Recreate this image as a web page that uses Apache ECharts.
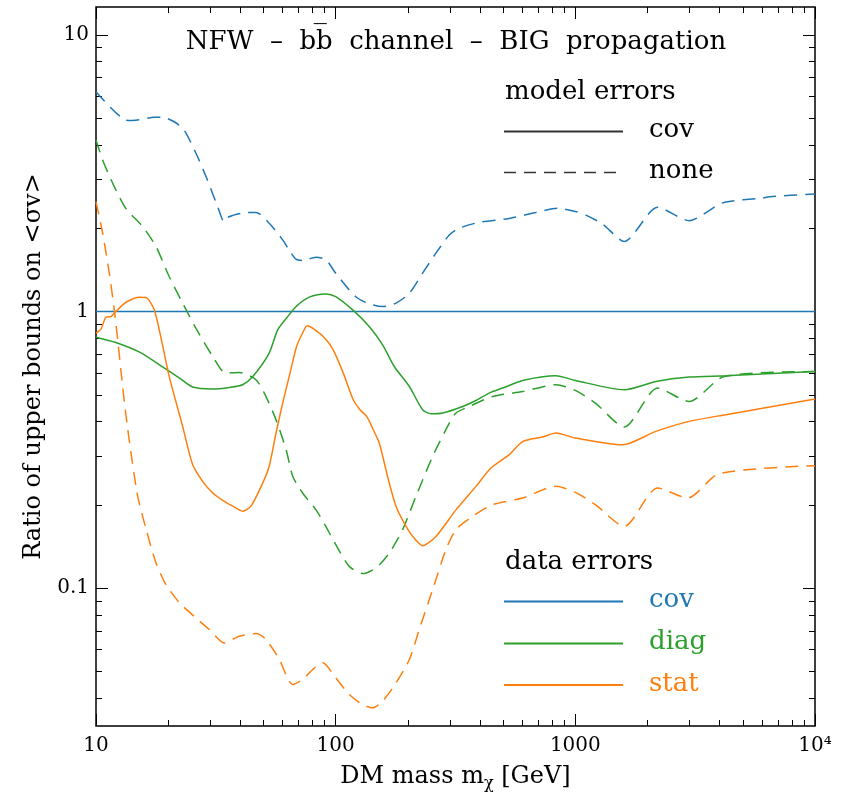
<!DOCTYPE html>
<html>
<head>
<meta charset="utf-8">
<title>NFW bb channel ratio</title>
<script src="https://cdn.jsdelivr.net/npm/echarts@6/dist/echarts.min.js"></script>
<style>
  html, body { margin: 0; padding: 0; background: #fff; }
  #chart { width: 847px; height: 797px; }
</style>
</head>
<body>
<div id="chart"></div>
<script>
// [mass GeV, ratio]
const covNone = [[10, 6.23], [13.3, 4.92], [14.2, 4.9], [17.5, 5.03], [19, 5.03], [21.2, 4.85], [23.3, 4.53], [26.1, 3.74], [28.8, 3.07], [32.2, 2.39], [34.3, 2.11], [35.9, 2.2], [40.9, 2.27], [46.5, 2.28], [52.7, 2.09], [60.1, 1.815], [63.9, 1.67], [68.3, 1.546], [72.8, 1.53], [82.8, 1.572], [91.1, 1.537], [100, 1.376], [121, 1.133], [138, 1.066], [157, 1.042], [178.5, 1.072], [203, 1.165], [230.5, 1.376], [262, 1.625], [298, 1.89], [328, 2.0], [397, 2.1], [530, 2.17], [685, 2.28], [844, 2.36], [1000, 2.3], [1107, 2.23], [1300, 2.07], [1600, 1.79], [2205, 2.38], [2986, 2.13], [4120, 2.47], [6045, 2.57], [6445, 2.6], [10000, 2.66]]
const covCov = [[10, 1], [10000, 1]]
const diagCov = [[10, 0.808], [12.1, 0.773], [15.2, 0.713], [18.4, 0.642], [22.3, 0.575], [25.3, 0.5335], [30.7, 0.525], [36, 0.532], [40.9, 0.544], [45.1, 0.5825], [52.8, 0.708], [57.3, 0.859], [63.1, 0.959], [68.3, 1.042], [77.6, 1.127], [91.1, 1.158], [100, 1.133], [117.8, 1.014], [138, 0.883], [157, 0.758], [175.6, 0.633], [203, 0.536], [230.5, 0.442], [249.8, 0.427], [279.6, 0.43], [338.8, 0.454], [384.9, 0.477], [437.4, 0.5075], [497.6, 0.529], [602.7, 0.5636], [830, 0.586], [1000, 0.5636], [1600, 0.5216], [2168, 0.5588], [2986, 0.58], [4246, 0.586], [10000, 0.607]]
const diagNone = [[10, 4.17], [10.66, 3.53], [11.74, 2.908], [13.3, 2.362], [15.66, 2.027], [17.8, 1.717], [20.2, 1.338], [23, 1.072], [26.1, 0.871], [30.7, 0.688], [34.8, 0.599], [39.6, 0.602], [46.5, 0.567], [51.2, 0.493], [56.4, 0.406], [62.1, 0.317], [66.2, 0.254], [72.8, 0.221], [82.8, 0.192], [91.1, 0.167], [100, 0.144], [114, 0.12], [129.6, 0.113], [147.3, 0.1185], [167.3, 0.134], [190.3, 0.163], [216.3, 0.215], [254, 0.3], [298, 0.3955], [317.7, 0.43], [361, 0.454], [452, 0.493], [602.7, 0.514], [830, 0.544], [1000, 0.519], [1212, 0.467], [1600, 0.3825], [2205, 0.529], [2986, 0.473], [4178, 0.5825], [10000, 0.607]]
const statCov = [[10, 0.836], [10.49, 0.864], [11, 0.954], [11.55, 0.959], [12.1, 1.0], [13.3, 1.078], [15.2, 1.127], [16.2, 1.123], [17.5, 1.014], [19, 0.748], [20.2, 0.583], [23, 0.384], [25.3, 0.28], [27.9, 0.243], [30.7, 0.221], [34.3, 0.206], [37.2, 0.198], [40.9, 0.19], [44.3, 0.198], [49.6, 0.24], [52.8, 0.276], [56.4, 0.364], [60.1, 0.467], [64.5, 0.599], [68.7, 0.748], [73.3, 0.847], [76.1, 0.888], [82, 0.859], [90.2, 0.801], [97.7, 0.727], [107.6, 0.599], [118.4, 0.48], [126.3, 0.442], [134.7, 0.418], [143.5, 0.374], [152, 0.335], [167.3, 0.24], [178.5, 0.198], [193.3, 0.172], [209.6, 0.154], [230.5, 0.1426], [262, 0.154], [317.7, 0.192], [384.9, 0.2335], [444.6, 0.272], [530, 0.304], [602.7, 0.339], [730, 0.352], [830, 0.364], [1000, 0.349], [1575, 0.33], [2168, 0.369], [2986, 0.401], [4246, 0.424], [10000, 0.483]]
const statNone = [[10, 2.495], [10.66, 1.919], [11.36, 1.376], [11.92, 1.014], [12.32, 0.79], [12.72, 0.605], [13.3, 0.43], [14, 0.308], [14.93, 0.215], [16.2, 0.163], [17.8, 0.1235], [19.6, 0.103], [22.3, 0.0886], [26.1, 0.0782], [29.7, 0.071], [34.3, 0.0635], [39.6, 0.0671], [46.5, 0.0686], [51.2, 0.0653], [58.2, 0.0553], [66.2, 0.0449], [72.8, 0.0468], [80.2, 0.0509], [88.3, 0.0538], [100, 0.0475], [114, 0.0413], [129.6, 0.038], [142.7, 0.037], [157, 0.0391], [178.5, 0.0455], [203, 0.0553], [223.3, 0.071], [254, 0.099], [288.5, 0.138], [317.7, 0.163], [373, 0.182], [452, 0.2005], [602.7, 0.212], [830, 0.2335], [1000, 0.222], [1212, 0.2005], [1600, 0.1674], [2205, 0.2304], [2942, 0.212], [3984, 0.2595], [10000, 0.2773]]

const xMajor = [10, 100, 1000, 10000]
const xMinor = [20, 30, 40, 50, 60, 70, 80, 90, 200, 300, 400, 500, 600, 700, 800, 900, 2000, 3000, 4000, 5000, 6000, 7000, 8000, 9000]
const yMajor = [0.1, 1, 10]
const yMinor = [0.04, 0.05, 0.06, 0.07, 0.08, 0.09, 0.2, 0.3, 0.4, 0.5, 0.6, 0.7, 0.8, 0.9, 2, 3, 4, 5, 6, 7, 8, 9]

const BLUE = '#1f77b4'
const GREEN = '#2ca02c'
const ORANGE = '#ff7f0e'
const FONT = 'DejaVu Serif'
const DASH = [13, 8]

function tickAxis(pos, min, max, values, len, withLabel, margin) {
  return {
    type: 'log',
    logBase: 10,
    position: pos,
    min: min,
    max: max,
    axisLine: { show: false },
    splitLine: { show: false },
    axisTick: { show: true, inside: true, length: len, customValues: values, lineStyle: { color: '#000', width: 1 } },
    axisLabel: withLabel ? {
      show: true,
      customValues: values,
      margin: margin,
      color: '#000',
      fontFamily: FONT,
      fontSize: 20,
      formatter: v => (v === 10000 ? '10\u2074' : String(v))
    } : { show: false }
  }
}

const xAxes = [
  tickAxis('bottom', 10, 10000, xMajor, 12, true, 10),
  tickAxis('bottom', 10, 10000, xMinor, 6, false),
  tickAxis('top', 10, 10000, xMajor, 12, false),
  tickAxis('top', 10, 10000, xMinor, 6, false)
]
xAxes[0].name = 'DM mass m{sub|\u03c7} [GeV]'
xAxes[0].nameLocation = 'middle'
xAxes[0].nameGap = 36
xAxes[0].nameTextStyle = {
  fontFamily: FONT, fontSize: 24, color: '#000',
  rich: { sub: { fontFamily: FONT, fontSize: 16, color: '#000', verticalAlign: 'bottom', padding: [14, 0, 0, 0] } }
}

const yAxes = [
  tickAxis('left', 0.0318, 12.6, yMajor, 12, true, 7),
  tickAxis('left', 0.0318, 12.6, yMinor, 6, false),
  tickAxis('right', 0.0318, 12.6, yMajor, 12, false),
  tickAxis('right', 0.0318, 12.6, yMinor, 6, false)
]
yAxes[0].name = 'Ratio of upper bounds on <\u03c3v>'
yAxes[0].nameLocation = 'middle'
yAxes[0].nameGap = 50
yAxes[0].nameTextStyle = { fontFamily: FONT, fontSize: 24, color: '#000' }

function curve(name, data, color, dashed) {
  return {
    name: name,
    type: 'line',
    data: data,
    xAxisIndex: 0,
    yAxisIndex: 0,
    showSymbol: false,
    symbol: 'none',
    smooth: 0.25,
    silent: true,
    lineStyle: { color: color, width: 1.5, type: dashed ? DASH : 'solid' }
  }
}

function label(text, x, y, color) {
  return { type: 'text', x: x, y: y, style: { text: text, fontFamily: FONT, fontSize: 26, fill: color, align: 'left', verticalAlign: 'middle' } }
}

const chart = echarts.init(document.getElementById('chart'), null, { renderer: 'canvas' })
chart.setOption({
  animation: false,
  backgroundColor: '#fff',
  textStyle: { fontFamily: FONT },
  grid: { left: 96, right: 32, top: 7, bottom: 71, show: true, borderColor: '#000', borderWidth: 1.5, backgroundColor: 'transparent' },
  xAxis: xAxes,
  yAxis: yAxes,
  series: [
    curve('cov none', covNone, BLUE, true),
    curve('cov cov', covCov, BLUE, false),
    curve('diag cov', diagCov, GREEN, false),
    curve('diag none', diagNone, GREEN, true),
    curve('stat cov', statCov, ORANGE, false),
    curve('stat none', statNone, ORANGE, true)
  ],
  graphic: [
    { type: 'text', x: 456, y: 42, style: { text: 'NFW  \u2013  bb\u0305  channel  \u2013  BIG  propagation', fontFamily: FONT, fontSize: 26, fill: '#000', align: 'center', verticalAlign: 'middle' } },
    label('model errors', 505, 92, '#000'),
    { type: 'line', shape: { x1: 504, y1: 131.5, x2: 623, y2: 131.5 }, style: { stroke: '#333', lineWidth: 2 } },
    label('cov', 649, 130, '#000'),
    { type: 'line', shape: { x1: 504, y1: 172.5, x2: 616, y2: 172.5 }, style: { stroke: '#333', lineWidth: 1.5, lineDash: [12, 8] } },
    label('none', 649, 171, '#000'),
    label('data errors', 505, 562, '#000'),
    { type: 'line', shape: { x1: 504, y1: 601.5, x2: 623, y2: 601.5 }, style: { stroke: BLUE, lineWidth: 1.8 } },
    label('cov', 649, 600, BLUE),
    { type: 'line', shape: { x1: 504, y1: 643.5, x2: 623, y2: 643.5 }, style: { stroke: GREEN, lineWidth: 1.8 } },
    label('diag', 649, 642, GREEN),
    { type: 'line', shape: { x1: 504, y1: 685, x2: 623, y2: 685 }, style: { stroke: ORANGE, lineWidth: 1.8 } },
    label('stat', 649, 684, ORANGE)
  ]
})
</script>
</body>
</html>
